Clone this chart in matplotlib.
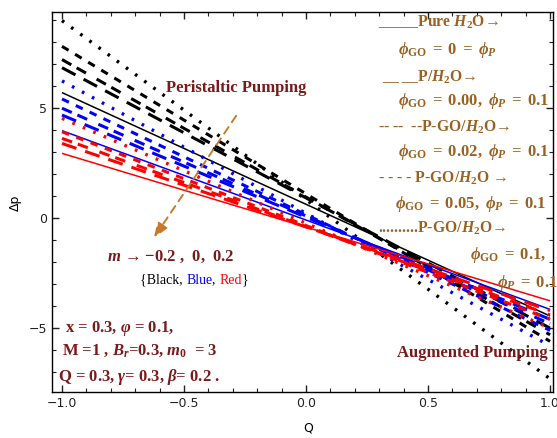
import numpy as np
import matplotlib
matplotlib.use("Agg")
import matplotlib.pyplot as plt
from matplotlib.ticker import MultipleLocator

plt.rcParams['mathtext.fontset'] = 'custom'
plt.rcParams['mathtext.rm'] = 'Liberation Serif:bold'
plt.rcParams['mathtext.it'] = 'Liberation Serif:italic:bold'
plt.rcParams['mathtext.bf'] = 'Liberation Serif:bold'

# ---- data (Delta p at Q = -1 and Q = +1), lines are linear in Q ----
Q_ends = [-1.0, 1.0]
colors = ['black', '#0000ff', '#ff0000']          # m = -0.2, 0, 0.2
m_values = [-0.2, 0.0, 0.2]
cases = ['pure', 'P', 'GO002', 'GO005', 'GO01']
# rows: cases (solid, long dash, dash-dash, short dash, dotted)
dp_black_left = [5.70, 6.83, 7.20, 7.80, 8.97]
dp_black_right = [-4.45, -5.00, -5.30, -5.60, -7.30]
dp_blue_left = [3.97, 4.68, 4.99, 5.41, 6.23]
dp_blue_right = [-4.15, -4.60, -4.80, -5.10, -5.80]
dp_red_left = [2.94, 3.39, 3.62, 3.92, 4.53]
dp_red_right = [-3.76, -4.20, -4.40, -4.60, -5.00]

styles = [dict(ls='-', lw=1.1),
          dict(ls=(0, (5, 3)), lw=2.2),
          dict(ls=(0, (3.5, 2, 3.5, 4)), lw=2.2),
          dict(ls=(0, (2.5, 2.5)), lw=2.2),
          dict(ls=(0, (0.8, 2.6)), lw=2.4)]

W, H = 557, 438
fig = plt.figure(figsize=(W / 100, H / 100), dpi=100)
ax = fig.add_axes([52 / W, 1 - 392 / H, (553 - 52) / W, (392 - 12) / H])

groups = [(dp_black_left, dp_black_right, colors[0]),
          (dp_blue_left, dp_blue_right, colors[1]),
          (dp_red_left, dp_red_right, colors[2])]
for left, right, c in groups:
    for i in range(len(cases)):
        ax.plot(Q_ends, [left[i], right[i]], color=c, solid_capstyle='butt',
                dash_capstyle='butt', **styles[i])

ax.set_xlim(-1.041, 1.012)
ax.set_ylim(-7.9, 9.36)
ax.xaxis.set_major_locator(MultipleLocator(0.5))
ax.xaxis.set_minor_locator(MultipleLocator(0.1))
ax.yaxis.set_major_locator(MultipleLocator(5))
ax.yaxis.set_minor_locator(MultipleLocator(1))
ax.tick_params(which='both', direction='in', top=True, right=True,
               labelsize=9, colors='#222222')
ax.tick_params(which='major', length=5, width=1)
ax.tick_params(which='minor', length=3, width=0.8)
ax.set_xticks([-1.0, -0.5, 0.0, 0.5, 1.0])
ax.set_xticklabels(['\u22121.0', '\u22120.5', '0.0', '0.5', '1.0'])
ax.set_yticks([-5, 0, 5])
ax.set_yticklabels(['\u22125', '0', '5'])
for s in ax.spines.values():
    s.set_linewidth(1.0)

def ftext(x, y, s, **kw):
    fig.text(x / W, 1 - y / H, s, **kw)

fig.text(308 / W, 1 - 428 / H, 'Q', ha='center', va='center', fontsize=9)
fig.text(15 / W, 1 - 203 / H, '\u0394p', ha='center', va='center', fontsize=9,
         rotation=90)

brown = '#9a6222'
dred = '#7a1a1a'
sfont = dict(family='Liberation Serif', weight='bold')

legend_lines = [
    (378, 22, '_____Pure $H_2$O\u2192', 11.3),
    (398, 50, r'$\phi_{\rm GO}\;=\;0\;=\;\phi_P$', 12),
    (382, 77, '__ __P/$H_2$O\u2192', 11.3),
    (398, 101, r'$\phi_{\rm GO}\;=\;0.00,\ \phi_P\;=\;0.1$', 12),
    (378, 127, '-- --  --P-GO/$H_2$O\u2192', 11.3),
    (398, 152, r'$\phi_{\rm GO}\;=\;0.02,\ \phi_P\;=\;0.1$', 12),
    (378, 178, '- - - - P-GO/$H_2$O \u2192', 11.3),
    (395, 204, r'$\phi_{\rm GO}\;=\;0.05,\ \phi_P\;=\;0.1$', 12),
    (378, 228, '..........P-GO/$H_2$O\u2192', 11.3),
    (470, 255, r'$\phi_{\rm GO}\;=\;0.1,$', 12),
    (497, 283, r'$\phi_P\;=\;0.1$', 12),
]
for x, y, s, fs in legend_lines:
    ftext(x, y, s, color=brown, fontsize=fs, ha='left', va='center', **sfont)

ftext(236, 88, 'Peristaltic Pumping', color=dred, fontsize=12, ha='center',
      va='center', **sfont)
ftext(472, 353, 'Augmented Pumping', color=dred, fontsize=12, ha='center',
      va='center', **sfont)

ftext(107, 257, '$m$ \u2192 \u22120.2 ,  0,  0.2',
      color=dred, fontsize=12, ha='left', va='center', **sfont)
# {Black, Blue, Red}
parts = [('{Black, ', 'black'), ('Blue', '#0000ff'), (', ', 'black'),
         ('Red', '#ff0000'), ('}', 'black')]
xpos = 140
for txt, c in parts:
    t = fig.text(xpos / W, 1 - 280 / H, txt, color=c, fontsize=10,
                 family='Liberation Serif', ha='left', va='center')
    fig.canvas.draw()
    bb = t.get_window_extent()
    xpos += bb.width

ftext(65, 329, r'x = 0.3, $\varphi$ = 0.1,', color=dred, fontsize=12,
      ha='left', va='center', **sfont)
ftext(62, 351, r'M =1 , $B_r$=0.3, $m_0$  = 3', color=dred, fontsize=12,
      ha='left', va='center', **sfont)
ftext(58, 377, r'Q = 0.3, $\gamma$= 0.3, $\beta$= 0.2 .', color=dred,
      fontsize=12, ha='left', va='center', **sfont)

ax.annotate('', xy=(-0.63, -1.0), xytext=(-0.28, 4.75),
            arrowprops=dict(arrowstyle='-|>,head_length=0.9,head_width=0.35',
                            color='#c87a2a', lw=1.4, ls=(0, (4, 3)),
                            mutation_scale=10))

fig.savefig('out.png', dpi=100)
